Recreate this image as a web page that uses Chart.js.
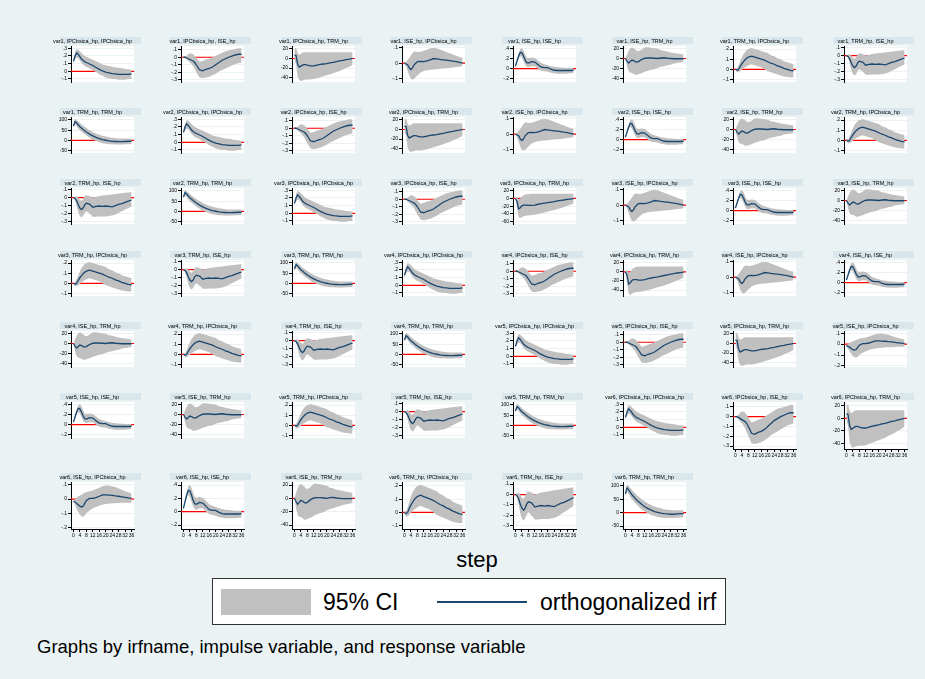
<!DOCTYPE html>
<html>
<head>
<meta charset="utf-8">
<title>irf</title>
<script src="https://cdn.jsdelivr.net/npm/chart.js@4.4.1/dist/chart.umd.min.js"></script>
<style>
  body { margin:0; }
  #fondo { position:relative; width:925px; height:679px; background:#eaf2f3; overflow:hidden; font-family:"Liberation Sans", Arial, sans-serif; color:#000; }
  #fondo canvas { position:absolute; }
  #step { position:absolute; left:427px; width:100px; top:548px; text-align:center; font-size:22px; line-height:24px; }
  #leyenda { position:absolute; left:212px; top:578px; width:512px; height:45px; background:#fff; border:1px solid #333; }
  #leyenda .caja { position:absolute; left:8px; top:10px; width:90px; height:26px; background:#c0c0c0; }
  #leyenda .t { position:absolute; top:10px; font-size:23px; line-height:26px; white-space:nowrap; }
  #leyenda .linea { position:absolute; left:224px; top:22px; width:90px; height:2px; background:#1a476f; }
  #nota { position:absolute; left:37px; top:636px; font-size:18.5px; line-height:22px; white-space:nowrap; }
</style>
</head>
<body>
<div id="fondo">
  <div id="step">step</div>
  <div id="leyenda">
    <div class="caja"></div>
    <div class="t" style="left:110px">95% CI</div>
    <div class="linea"></div>
    <div class="t" style="left:327px">orthogonalized irf</div>
  </div>
  <div id="nota">Graphs by irfname, impulse variable, and response variable</div>
</div>
<script>
const pasos = [0,1,2,3,4,5,6,7,8,10,12,14,16,18,20,22,24,26,28,30,32,34,36];
const pasosEje = [0,4,8,12,16,20,24,28,32,36];
const nombresIrf = ["var1","var2","var3","var4","var5","var6"];
const variables = ["IPCbsica_hp","ISE_hp","TRM_hp"];
const cortos = ["IPC","ISE","TRM"];

// impulso IPC
const irf_IPC_IPC = [.13,.20,.24,.22,.19,.16,.14,.125,.115,.095,.075,.05,.025,.005,-.01,-.02,-.03,-.035,-.04,-.04,-.04,-.04,-.035];
const hi_IPC_IPC  = [.15,.25,.29,.28,.26,.24,.22,.20,.19,.17,.15,.13,.11,.09,.08,.07,.06,.05,.045,.04,.03,.025,.02];
const lo_IPC_IPC  = [.11,.15,.18,.17,.14,.11,.09,.07,.06,.04,.01,-.01,-.04,-.06,-.08,-.09,-.10,-.10,-.11,-.11,-.11,-.10,-.10];

const irf_IPC_ISE = [0,0,-.01,-.02,-.03,-.04,-.05,-.07,-.10,-.17,-.18,-.16,-.15,-.13,-.10,-.07,-.04,-.02,0,.015,.03,.04,.04];
const hi_IPC_ISE  = [0,.01,.02,.04,.055,.05,.04,.02,-.01,-.06,-.05,-.03,-.02,0,.02,.04,.06,.08,.09,.10,.11,.12,.12];
const lo_IPC_ISE  = [0,-.01,-.03,-.05,-.07,-.09,-.12,-.16,-.20,-.27,-.28,-.27,-.26,-.24,-.22,-.19,-.17,-.15,-.13,-.11,-.09,-.08,-.07];

const irf_IPC_TRM = [7,6,-12,-18,-16,-14,-13,-13,-14,-15.5,-15.5,-14,-12.5,-11.5,-10.5,-9,-8,-6.5,-5,-4,-2.5,-1.5,0];
const hi_IPC_TRM  = [20,23,12,8,10,12,13,13,13,13,13,13,13,13,13,13,13,13,13,13,13,13,13];
const lo_IPC_TRM  = [-5,-12,-38,-45,-47,-46,-45,-44,-44,-44,-43,-41,-39,-37,-35,-33,-31,-28,-26,-23,-20,-17,-13];

// var3 y var4 (orden distinto)
const irf_IPC_TRM_b = [0,-8,-27,-24,-19,-17,-17,-17,-18,-18,-17,-15,-13.5,-12,-11,-9.5,-8,-6.5,-5,-4,-2.5,-1.5,-0.5];
const hi_IPC_TRM_b  = [0,5,-3,0,5,8,10,11,11,12,12,12,12,12,12,12,12,12,12,12,12,12,12];
const lo_IPC_TRM_b  = [0,-25,-48,-51,-48,-46,-45,-44,-44,-43,-42,-40,-38,-36,-34,-32,-30,-27,-25,-22,-19,-16,-13];

// impulso ISE
const irf_ISE_IPC = [0,-.005,-.01,-.03,-.04,-.03,-.01,0,.01,.012,.01,.015,.022,.03,.028,.024,.022,.02,.017,.013,.01,.005,0];
const hi_ISE_IPC  = [.003,.01,.02,.035,.05,.065,.075,.075,.072,.074,.08,.088,.095,.098,.095,.088,.08,.072,.063,.055,.047,.04,.035];
const lo_ISE_IPC  = [-.005,-.02,-.05,-.08,-.10,-.105,-.10,-.09,-.078,-.06,-.05,-.045,-.042,-.04,-.038,-.036,-.034,-.032,-.03,-.027,-.024,-.022,-.02];

// var5 y var6
const irf_ISE_IPC_b = [-.015,-.02,-.03,-.04,-.05,-.055,-.05,-.03,-.01,.005,.005,.01,.02,.03,.03,.028,.026,.022,.02,.016,.012,.008,.005];
const hi_ISE_IPC_b  = [-.01,0,.01,.02,.025,.03,.04,.045,.05,.055,.06,.07,.08,.09,.095,.095,.09,.085,.075,.065,.055,.048,.04];
const lo_ISE_IPC_b  = [-.02,-.04,-.07,-.09,-.11,-.12,-.125,-.115,-.10,-.08,-.065,-.055,-.045,-.04,-.035,-.033,-.03,-.03,-.028,-.026,-.025,-.025,-.025];

const irf_ISE_ISE = [.05,.15,.25,.32,.31,.25,.17,.12,.11,.14,.13,.08,.03,.02,.02,-.01,-.03,-.035,-.035,-.035,-.035,-.035,-.03];
const hi_ISE_ISE  = [.06,.18,.30,.38,.40,.36,.28,.22,.21,.22,.21,.16,.11,.09,.07,.05,.04,.03,.025,.02,.015,.015,.015];
const lo_ISE_ISE  = [.04,.12,.20,.25,.22,.15,.08,.04,.03,.05,.05,0,-.04,-.05,-.06,-.08,-.09,-.10,-.10,-.10,-.10,-.09,-.09];

const irf_ISE_TRM = [0,-5,-9,-6,-3,-4,-6,-7,-6,-2,.5,1,1,.5,0,1,1.5,.5,0,-.5,-.5,-.5,-.5];
const hi_ISE_TRM  = [0,8,15,20,22,20,18,15,14,17,22,22,21,20,19,16,15,13,12,11,10,9,8];
const lo_ISE_TRM  = [0,-15,-25,-28,-28,-30,-32,-32,-31,-29,-26,-24,-22,-21,-18,-16,-15,-13,-12,-10,-9,-8,-7];

// impulso TRM
const irf_TRM_IPC = [0,-.01,0,.03,.055,.075,.095,.11,.12,.13,.12,.11,.10,.09,.075,.06,.05,.035,.025,.01,0,-.01,-.015];
const hi_TRM_IPC  = [.005,.01,.04,.08,.12,.15,.17,.19,.20,.21,.20,.19,.18,.17,.16,.14,.13,.11,.10,.08,.07,.06,.05];
const lo_TRM_IPC  = [-.005,-.03,-.03,-.02,-.005,.01,.02,.03,.04,.05,.04,.03,.02,0,-.02,-.03,-.04,-.05,-.06,-.07,-.075,-.08,-.08];

const irf_TRM_ISE = [0,-.01,-.04,-.09,-.13,-.15,-.13,-.09,-.07,-.08,-.12,-.11,-.105,-.11,-.105,-.11,-.115,-.10,-.085,-.075,-.06,-.045,-.03];
const hi_TRM_ISE  = [0,.01,.02,0,-.03,-.04,-.02,.02,.03,.02,0,.01,.02,.025,.03,.035,.04,.045,.05,.055,.06,.065,.07];
const lo_TRM_ISE  = [0,-.03,-.10,-.18,-.23,-.25,-.23,-.19,-.17,-.20,-.24,-.24,-.235,-.235,-.235,-.23,-.225,-.21,-.19,-.17,-.15,-.13,-.11];

const irf_TRM_TRM = [70,92,85,75,67,60,53,47,41,31,22,15,9,4,1,-2,-4,-5,-6,-6,-5,-4,-4];
const hi_TRM_TRM  = [80,105,100,92,85,78,72,66,60,50,41,34,28,23,19,16,13,11,10,9,9,9,9];
const lo_TRM_TRM  = [60,78,70,58,50,43,36,30,24,13,4,-3,-9,-13,-16,-18,-19,-20,-20,-20,-19,-18,-17];

// ejes y: marcas y rango
const ticks_IPC_IPC = [-.1,0,.1,.2,.3],      rango_IPC_IPC = [-.14,.33];
const ticks_IPC_ISE = [-.3,-.2,-.1,0,.1],    rango_IPC_ISE = [-.33,.15];
const ticks_IPC_TRM = [-40,-20,0,20],        rango_IPC_TRM = [-49,26];
const ticks_IPC_TRM_var3 = [-60,-40,-20,0,20], rango_IPC_TRM_var3 = [-66,27];
const ticks_IPC_TRM_var4 = [-40,-20,0,20],   rango_IPC_TRM_var4 = [-53,26];
const ticks_ISE_IPC = [-.1,0,.1],            rango_ISE_IPC = [-.12,.11];
const ticks_ISE_IPC_b = [-.2,-.1,0,.1],      rango_ISE_IPC_b = [-.21,.12];
const ticks_ISE_ISE = [-.2,0,.2,.4],         rango_ISE_ISE = [-.26,.445];
const ticks_ISE_TRM = [-40,-20,0,20],        rango_ISE_TRM = [-46,24.5];
const ticks_TRM_IPC = [-.1,0,.1,.2],         rango_TRM_IPC = [-.125,.23];
const ticks_TRM_ISE = [-.3,-.2,-.1,0,.1],    rango_TRM_ISE = [-.33,.12];
const ticks_TRM_TRM = [-50,0,50,100],        rango_TRM_TRM = [-61,114];

const xMin = -1.5, xMax = 37.5;

const series = {
  IPC_IPC:[irf_IPC_IPC, lo_IPC_IPC, hi_IPC_IPC],
  IPC_ISE:[irf_IPC_ISE, lo_IPC_ISE, hi_IPC_ISE],
  IPC_TRM:[irf_IPC_TRM, lo_IPC_TRM, hi_IPC_TRM],
  IPC_TRM_b:[irf_IPC_TRM_b, lo_IPC_TRM_b, hi_IPC_TRM_b],
  ISE_IPC:[irf_ISE_IPC, lo_ISE_IPC, hi_ISE_IPC],
  ISE_IPC_b:[irf_ISE_IPC_b, lo_ISE_IPC_b, hi_ISE_IPC_b],
  ISE_ISE:[irf_ISE_ISE, lo_ISE_ISE, hi_ISE_ISE],
  ISE_TRM:[irf_ISE_TRM, lo_ISE_TRM, hi_ISE_TRM],
  TRM_IPC:[irf_TRM_IPC, lo_TRM_IPC, hi_TRM_IPC],
  TRM_ISE:[irf_TRM_ISE, lo_TRM_ISE, hi_TRM_ISE],
  TRM_TRM:[irf_TRM_TRM, lo_TRM_TRM, hi_TRM_TRM]
};
const ejes = {
  IPC_IPC:[ticks_IPC_IPC, rango_IPC_IPC],
  IPC_ISE:[ticks_IPC_ISE, rango_IPC_ISE],
  IPC_TRM:[ticks_IPC_TRM, rango_IPC_TRM],
  IPC_TRM_var3:[ticks_IPC_TRM_var3, rango_IPC_TRM_var3],
  IPC_TRM_var4:[ticks_IPC_TRM_var4, rango_IPC_TRM_var4],
  ISE_IPC:[ticks_ISE_IPC, rango_ISE_IPC],
  ISE_IPC_b:[ticks_ISE_IPC_b, rango_ISE_IPC_b],
  ISE_ISE:[ticks_ISE_ISE, rango_ISE_ISE],
  ISE_TRM:[ticks_ISE_TRM, rango_ISE_TRM],
  TRM_IPC:[ticks_TRM_IPC, rango_TRM_IPC],
  TRM_ISE:[ticks_TRM_ISE, rango_TRM_ISE],
  TRM_TRM:[ticks_TRM_TRM, rango_TRM_TRM]
};

Chart.defaults.font.family = "'Liberation Sans', Arial, sans-serif";

function puntos(valores) {
  return pasos.map((p, i) => ({x: p, y: valores[i]}));
}

function formato(v) {
  let s = String(Math.round(v * 1000) / 1000);
  return s.replace(/^0\./, '.').replace(/^-0\./, '-.');
}

// caja del titulo y region blanca del panel
const fondoPanel = {
  id: 'fondoPanel',
  beforeDraw(chart) {
    const c = chart.ctx, a = chart.chartArea, t = chart.titleBlock;
    c.save();
    c.fillStyle = '#d9e6eb';
    c.fillRect(a.left - 11, t.top, a.right - a.left + 18, t.height - 2);
    c.fillStyle = '#fff';
    c.fillRect(a.left, a.top, a.right - a.left, a.bottom - a.top);
    c.restore();
  }
};

const fondo = document.getElementById('fondo');

function panel(i, titulo, s, eje) {
  const fila = Math.floor(i / 8), col = i % 8;
  const abajo = fila === 6 || (fila === 5 && col >= 6);
  const x0 = Math.round(71 + col * 110.4);
  const y0 = Math.round(fila < 6 ? 46 + fila * 71.2 : 46 + 6 * 71.2 + 9);
  const alto = abajo ? 67 : 56;
  const cv = document.createElement('canvas');
  cv.width = 98; cv.height = alto;
  cv.style.left = (x0 - 20) + 'px';
  cv.style.top = (y0 - 9) + 'px';
  cv.style.width = '98px'; cv.style.height = alto + 'px';
  fondo.appendChild(cv);

  new Chart(cv, {
    type: 'line',
    data: {
      datasets: [
        { data: puntos(s[0]), borderColor: '#1a476f', borderWidth: 1.3, pointRadius: 0 },
        { data: puntos(s[2]), borderColor: 'rgba(0,0,0,0)', borderWidth: 0, pointRadius: 0, fill: '+1', backgroundColor: '#c0c0c0' },
        { data: puntos(s[1]), borderColor: 'rgba(0,0,0,0)', borderWidth: 0, pointRadius: 0 },
        { data: [{x: xMin, y: 0}, {x: xMax, y: 0}], borderColor: '#ff0000', borderWidth: 1.2, pointRadius: 0 }
      ]
    },
    options: {
      responsive: false,
      animation: false,
      devicePixelRatio: 1,
      events: [],
      layout: { padding: { left: 0, right: 15, top: 0, bottom: 0 } },
      plugins: {
        legend: { display: false },
        tooltip: { enabled: false },
        title: {
          display: true,
          text: titulo,
          color: '#000',
          font: { size: 5.5, weight: 'normal' },
          padding: { top: 1, bottom: 1.4 }
        }
      },
      scales: {
        x: {
          type: 'linear', min: xMin, max: xMax,
          display: abajo,
          afterBuildTicks: sc => { sc.ticks = pasosEje.map(v => ({value: v})); },
          afterFit: sc => { sc.height = 11; sc.paddingLeft = 0; sc.paddingRight = 0; },
          grid: { drawOnChartArea: false, tickColor: '#000', tickLength: 3 },
          border: { color: '#000', width: 1 },
          ticks: { font: { size: 5 }, color: '#000', padding: 1, maxRotation: 0, autoSkip: false }
        },
        y: {
          type: 'linear', min: eje[1][0], max: eje[1][1],
          afterBuildTicks: sc => { sc.ticks = eje[0].map(v => ({value: v})); },
          afterFit: sc => { sc.width = 20; sc.paddingTop = 0; sc.paddingBottom = 0; },
          grid: { color: '#eaf2f3', tickColor: '#000', tickLength: 3, lineWidth: 1 },
          border: { color: '#000', width: 1 },
          ticks: { font: { size: 5 }, color: '#000', padding: 1, callback: formato }
        }
      }
    },
    plugins: [fondoPanel]
  });
}

let n = 0;
nombresIrf.forEach(nombre => {
  cortos.forEach((imp, a) => {
    cortos.forEach((resp, b) => {
      const clave = imp + '_' + resp;
      let claveS = clave, claveE = clave;
      if (clave === 'IPC_TRM' && (nombre === 'var3' || nombre === 'var4')) { claveS = 'IPC_TRM_b'; claveE = 'IPC_TRM_' + nombre; }
      if (clave === 'ISE_IPC' && (nombre === 'var5' || nombre === 'var6')) { claveS = 'ISE_IPC_b'; claveE = 'ISE_IPC_b'; }
      panel(n, nombre + ', ' + variables[a] + ', ' + variables[b], series[claveS], ejes[claveE]);
      n++;
    });
  });
});
</script>
</body>
</html>
